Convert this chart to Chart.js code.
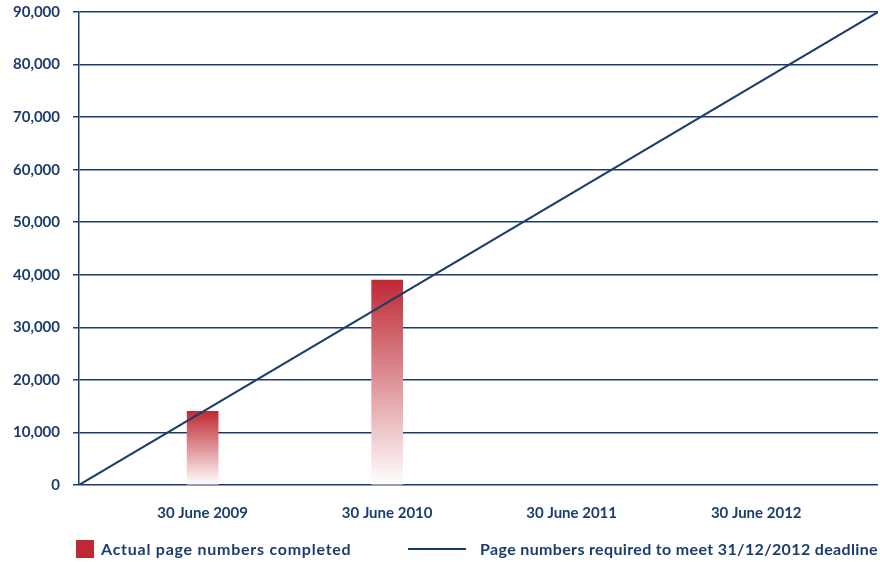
<!DOCTYPE html>
<html>
<head>
<meta charset="utf-8">
<script src="https://cdn.jsdelivr.net/npm/chart.js@4.4.1/dist/chart.umd.min.js"></script>
<style>
  body { margin: 0; background: #fff; }
  #wrap { position: relative; width: 880px; height: 562px; }
  .key { position: absolute; font: bold 16px Lato, sans-serif; letter-spacing: 0.35px; color: #1b3d6d; white-space: nowrap; }
  .swatch { position: absolute; }
</style>
</head>
<body>
<div id="wrap">
  <canvas id="pages" width="880" height="562"></canvas>
  <div class="swatch" style="left:76px;top:540px;width:18px;height:18px;background:rgb(190,42,52)"></div>
  <div class="key" style="left:101px;top:539px;letter-spacing:0.75px">Actual page numbers completed</div>
  <div class="swatch" style="left:408px;top:548px;width:58px;height:2px;background:#1b3d6d"></div>
  <div class="key" style="left:480px;top:539px">Page numbers required to meet 31/12/2012 deadline</div>
</div>
<script>
const navy = "#1b3d6d";
const barRed = "rgb(190,42,52)";

// reporting dates along the x axis
const periodLabels = ["30 June 2009", "30 June 2010", "30 June 2011", "30 June 2012"];
const periodPos = [1, 2, 3, 4];

// pages actually completed at each reporting date
const completedPos = [1, 2];
const pagesCompleted = [14000, 39000];

// straight-line target: from the start of the project to the 31/12/2012 deadline
const requiredPos = [0.33, 4.66];
const requiredPages = [0, 90000];

const yTicks = [0, 10000, 20000, 30000, 40000, 50000, 60000, 70000, 80000, 90000];

const fadeBar = (c) => {
  const chart = c.chart;
  if (!chart.chartArea || c.type !== "data") return barRed;
  const y = chart.scales.y;
  const top = y.getPixelForValue(c.parsed.y);
  const bottom = y.getPixelForValue(0);
  const g = chart.ctx.createLinearGradient(0, top, 0, bottom);
  g.addColorStop(0, barRed);
  g.addColorStop(1, "rgba(255,255,255,1)");
  return g;
};

const ctx = document.getElementById("pages").getContext("2d");
const myChart = new Chart(ctx, {
  data: {
    datasets: [
      {
        type: "line",
        label: "Page numbers required to meet 31/12/2012 deadline",
        data: requiredPos.map((x, i) => ({ x: x, y: requiredPages[i] })),
        borderColor: navy,
        borderWidth: 2,
        pointRadius: 0,
        tension: 0,
        order: 0,
      },
      {
        type: "bar",
        label: "Actual page numbers completed",
        data: completedPos.map((x, i) => ({ x: x, y: pagesCompleted[i] })),
        backgroundColor: fadeBar,
        barThickness: 31,
        order: 1,
      },
    ],
  },
  options: {
    responsive: false,
    animation: false,
    layout: { padding: { top: 12, right: 2, left: 0, bottom: 0 } },
    plugins: {
      legend: { display: false },
      tooltip: { enabled: false },
    },
    scales: {
      x: {
        type: "linear",
        offset: false,
        min: requiredPos[0],
        max: requiredPos[1],
        grid: { display: false, drawTicks: false },
        border: { display: false },
        afterBuildTicks: (s) => { s.ticks = periodPos.map((v) => ({ value: v })); },
        afterFit: (s) => { s.height = 77; },
        ticks: {
          padding: 19,
          color: navy,
          font: { family: "Lato", size: 15, weight: "bold" },
          callback: (v) => periodLabels[periodPos.indexOf(v)],
        },
      },
      y: {
        min: 0,
        max: 90000,
        afterBuildTicks: (s) => { s.ticks = yTicks.map((v) => ({ value: v })); },
        afterFit: (s) => { s.width = 79; s.paddingTop = 0; s.paddingBottom = 0; },
        grid: { color: navy, lineWidth: 1.5, tickLength: 6 },
        border: { color: navy, width: 1.5 },
        ticks: {
          padding: 13,
          color: navy,
          font: { family: "Lato", size: 15, weight: "bold" },
          callback: (v) => v.toLocaleString("en-US"),
        },
      },
    },
  },
});
</script>
</body>
</html>
